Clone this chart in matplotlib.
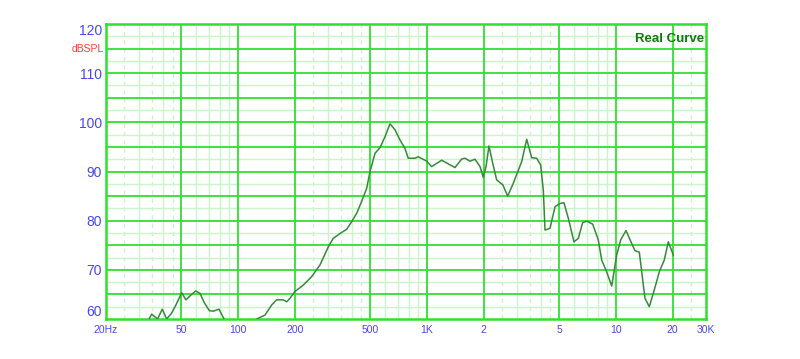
import numpy as np
from matplotlib import pyplot as plt
from matplotlib.ticker import FixedLocator, NullFormatter

# frequency response (Hz, dB SPL)
freq_low = [33.8, 34.9, 37.5, 39.7, 41.9, 44.5, 46.9, 50.3, 53.0, 56.4, 59.7,
            62.9, 66.3, 70.5, 74.0, 79.3, 84.3]
spl_low = [60.0, 61.0, 60.0, 62.0, 60.0, 61.2, 62.85, 65.35, 63.9, 64.9, 65.7,
           65.2, 63.3, 61.7, 61.6, 62.0, 60.0]

freq_main = [125.6, 138.9, 150.7, 160, 173.6, 181, 188.4, 200, 221.6, 245,
             271.6, 300.6, 319, 346.6, 376, 399.6, 424.6, 451, 479.8, 499.6,
             531, 564, 600, 637, 677, 720, 765, 796, 865, 900, 997, 1059,
             1197, 1407, 1528, 1590, 1690, 1796, 1910, 1987, 2054, 2130,
             2228, 2339, 2520, 2675, 2864, 3172, 3374, 3584, 3810, 4000,
             4130, 4216, 4480, 4764, 5060, 5312, 5600, 6000, 6325, 6670,
             7010, 7536, 8072, 8414, 8938, 9506, 10100, 10610, 11312, 12020,
             12620, 13306, 14260, 15030, 15970, 16980, 18040, 18950, 20140]
spl_main = [60.0, 60.8, 62.85, 63.9, 63.9, 63.5, 64.2, 65.6, 66.9, 68.6,
            71.0, 74.7, 76.4, 77.4, 78.25, 79.8, 81.5, 83.9, 86.6, 90.0,
            93.7, 94.85, 97.1, 99.7, 98.5, 96.4, 94.7, 92.7, 92.7, 93.0, 92.1,
            91.0, 92.3, 90.8, 92.55, 92.7, 92.1, 92.5, 91.0, 88.8, 91.0, 95.2,
            91.7, 88.3, 87.3, 85.0, 87.6, 92.0, 96.55, 92.8, 92.7, 91.3,
            86.2, 78.1, 78.45, 82.85, 83.5, 83.65, 80.5, 75.7, 76.4, 79.6,
            79.9, 79.3, 76.1, 72.0, 69.6, 66.7, 73.0, 76.1, 78.0, 75.7,
            73.9, 73.6, 64.2, 62.5, 65.9, 69.6, 72.0, 75.7, 73.0]

y_ticks = [60, 70, 80, 90, 100, 110, 120]
x_ticks = [20, 50, 100, 200, 500, 1000, 2000, 5000, 10000, 20000, 30000]
x_labels = ["20Hz", "50", "100", "200", "500", "1K", "2", "5", "10", "20", "30K"]

fig = plt.figure(figsize=(8, 3.59), dpi=100)
ax = fig.add_axes([0.1325, 0.1114, 0.75, 0.8217])
ax.set_xscale("log")
ax.set_xlim(20, 30000)
ax.set_ylim(60, 120)

major = "#30e030"
minor = "#c9f5c9"
# grid
for d in [10, 100, 1000, 10000]:
    for k in [3, 4, 6, 7, 8, 9]:
        f = k * d
        if 20 < f < 30000:
            ax.axvline(f, color=minor, lw=1, zorder=1)
    for k in [2.5, 3.5, 4.5]:
        f = k * d
        if 20 < f < 30000:
            ax.axvline(f, color=minor, lw=1, ls=(0, (3, 3)), zorder=1)
for f in [50, 100, 200, 500, 1000, 2000, 5000, 10000, 20000]:
    ax.axvline(f, color=major, lw=1.3, zorder=2)
for v in np.arange(62.5, 120, 5):
    ax.axhline(v, color=minor, lw=1, zorder=1)
for v in np.arange(65, 120, 5):
    ax.axhline(v, color=major, lw=1.3, zorder=2)

ax.plot(freq_low, spl_low, color="#358a3a", lw=1.1, zorder=3)
ax.plot(freq_main, spl_main, color="#358a3a", lw=1.1, zorder=3)

for s in ax.spines.values():
    s.set_color(major)
    s.set_linewidth(1.8)

ax.xaxis.set_major_locator(FixedLocator(x_ticks))
ax.set_xticklabels(x_labels)
ax.xaxis.set_minor_formatter(NullFormatter())
ax.set_yticks(y_ticks)
ax.tick_params(axis="both", which="both", length=0)
ax.tick_params(axis="y", labelcolor="#4848f0", labelsize=10, pad=3)
ax.tick_params(axis="x", labelcolor="#4848f0", labelsize=7.5, pad=4)
for lbl in ax.get_xticklabels() + ax.get_yticklabels():
    lbl.set_fontfamily("Liberation Sans")
ylabels = ax.get_yticklabels()
ylabels[0].set_verticalalignment("bottom")
ylabels[-1].set_verticalalignment("top")

ax.text(-0.004, 115, "dBSPL", color="#ff3a3a", fontsize=7.5, ha="right",
        va="center", transform=ax.get_yaxis_transform(), family="Liberation Sans")
ax.text(0.997, 0.97, "Real Curve", color="#107a10", fontsize=9.5, fontweight="bold",
        ha="right", va="top", transform=ax.transAxes, family="Liberation Sans")

plt.savefig("out.png", dpi=100)
